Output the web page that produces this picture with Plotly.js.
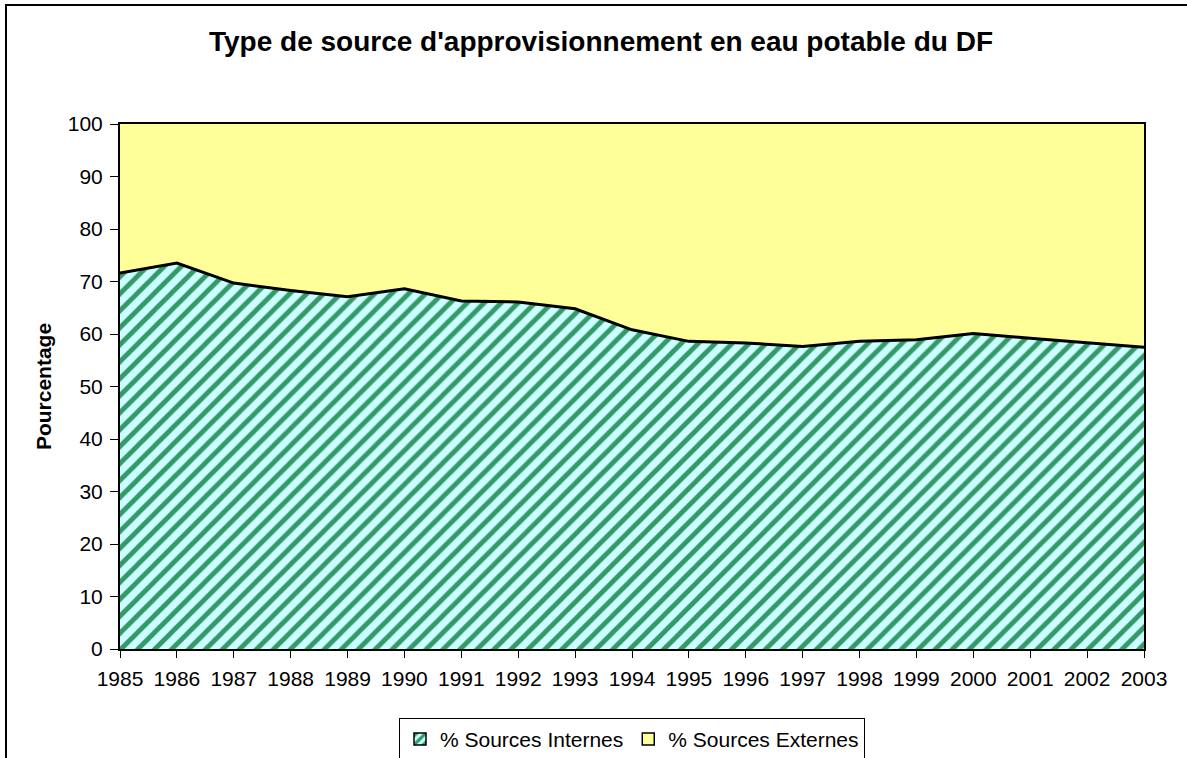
<!DOCTYPE html>
<html>
<head>
<meta charset="utf-8">
<script src="https://cdn.plot.ly/plotly-3.0.1.min.js"></script>
<style>
  html, body { margin: 0; padding: 0; background: #fff; }
  #frame { position: absolute; left: 5px; top: 4px; width: 1200px; height: 800px;
           border-left: 2px solid #000; border-top: 2px solid #000; pointer-events: none; z-index: 10; }
  #chart { position: absolute; left: 0; top: 0; width: 1187px; height: 758px; }
</style>
</head>
<body>
<div id="chart"></div>
<div id="frame"></div>
<script>
const years = [1985,1986,1987,1988,1989,1990,1991,1992,1993,1994,1995,1996,1997,1998,1999,2000,2001,2002,2003];
const internes = [71.6,73.5,69.7,68.3,67.1,68.6,66.3,66.1,64.8,60.8,58.6,58.3,57.6,58.6,58.9,60.1,59.2,58.4,57.5];
const externes = internes.map(v => +(100 - v).toFixed(1));
const yTicks = [0,10,20,30,40,50,60,70,80,90,100];
const seriesNames = ["% Sources Internes", "% Sources Externes"];

const font = "Liberation Sans, Arial, sans-serif";
const green = "#339966", cyan = "#CCFFFF", yellow = "#FFFF99";

const traces = [
  {
    x: years, y: internes, name: seriesNames[0], type: "scatter", mode: "lines",
    stackgroup: "one", showlegend: false,
    line: {color: "#000000", width: 3},
    fillcolor: cyan,
    fillpattern: {shape: "/", fgcolor: green, bgcolor: cyan, size: 12, solidity: 0.4}
  },
  {
    x: years, y: externes, name: seriesNames[1], type: "scatter", mode: "lines",
    stackgroup: "one", showlegend: false,
    line: {color: "#000000", width: 0},
    fillcolor: yellow
  },
  {
    x: [null], y: [null], name: seriesNames[0], type: "bar", showlegend: true,
    marker: {color: cyan, line: {color: "#000", width: 1.5},
             pattern: {shape: "/", fgcolor: green, bgcolor: cyan, size: 8, solidity: 0.5}}
  },
  {
    x: [null], y: [null], name: seriesNames[1], type: "bar", showlegend: true,
    marker: {color: yellow, line: {color: "#000", width: 1.5}}
  }
];

const layout = {
  width: 1187, height: 758,
  margin: {l: 120, r: 43, t: 124, b: 109, autoexpand: false},
  paper_bgcolor: "#ffffff", plot_bgcolor: "#ffffff",
  font: {family: font, size: 21, color: "#000"},
  title: {text: "<b>Type de source d'approvisionnement en eau potable du DF</b>",
          font: {family: font, size: 28, color: "#000"},
          x: 601/1187, xanchor: "center", y: 1 - 41/758, yanchor: "middle"},
  xaxis: {
    range: [1985, 2003], tickmode: "array", tickvals: years, ticktext: years.map(String),
    showgrid: false, zeroline: false, showline: true, linecolor: "#000", linewidth: 2, mirror: true,
    ticks: "outside", ticklen: 7, tickcolor: "#000", tickwidth: 1, ticklabelstandoff: 3,
    tickfont: {family: font, size: 21, color: "#000"}, fixedrange: true, automargin: false
  },
  yaxis: {
    range: [0, 100], tickmode: "array", tickvals: yTicks,
    showgrid: false, zeroline: false, showline: true, linecolor: "#000", linewidth: 2, mirror: true,
    ticks: "outside", ticklen: 8, tickcolor: "#000", tickwidth: 1, ticklabelstandoff: 3,
    tickfont: {family: font, size: 21, color: "#000"},
    title: {text: "<b>Pourcentage</b>", font: {family: font, size: 21, color: "#000"}, standoff: 10},
    fixedrange: true, automargin: false
  },
  showlegend: true,
  legend: {
    orientation: "h", x: (632 - 120) / 1024, xanchor: "center", y: -0.131, yanchor: "top",
    bordercolor: "#000", borderwidth: 1, bgcolor: "#fff",
    font: {family: font, size: 21, color: "#000"},
    itemwidth: 30, traceorder: "normal"
  }
};

Plotly.newPlot("chart", traces, layout, {displayModeBar: false, staticPlot: true});
</script>
</body>
</html>
